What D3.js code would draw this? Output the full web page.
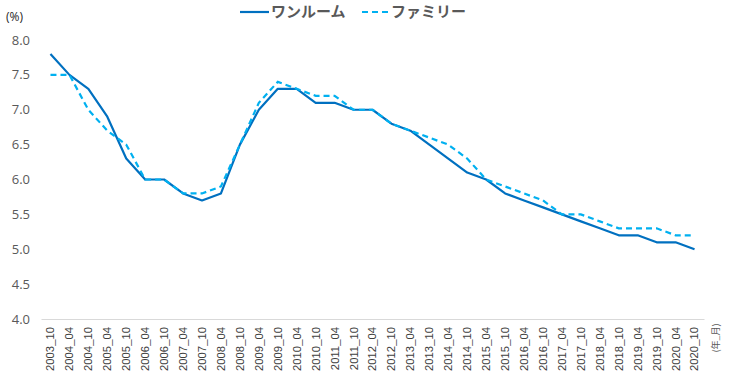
<!DOCTYPE html>
<html><head><meta charset="utf-8">
<script src="https://cdn.jsdelivr.net/npm/d3@7"></script>
<style>body{margin:0;background:#fff;} svg{display:block;font-family:"Noto Sans CJK JP","Noto Sans",sans-serif;}</style>
</head><body>
<svg id="c" width="730" height="384"></svg>
<script>
const categories = ["2003_10","2004_04","2004_10","2005_04","2005_10","2006_04","2006_10","2007_04","2007_10","2008_04","2008_10","2009_04","2009_10","2010_04","2010_10","2011_04","2011_10","2012_04","2012_10","2013_04","2013_10","2014_04","2014_10","2015_04","2015_10","2016_04","2016_10","2017_04","2017_10","2018_04","2018_10","2019_04","2019_10","2020_04","2020_10"];
const oneRoom = [7.8,7.5,7.3,6.9,6.3,6.0,6.0,5.8,5.7,5.8,6.5,7.0,7.3,7.3,7.1,7.1,7.0,7.0,6.8,6.7,6.5,6.3,6.1,6.0,5.8,5.7,5.6,5.5,5.4,5.3,5.2,5.2,5.1,5.1,5.0];
const family = [7.5,7.5,7.0,6.7,6.5,6.0,6.0,5.8,5.8,5.9,6.5,7.1,7.4,7.3,7.2,7.2,7.0,7.0,6.8,6.7,6.6,6.5,6.3,6.0,5.9,5.8,5.7,5.5,5.5,5.4,5.3,5.3,5.3,5.2,5.2];
const yTicks = [4.0,4.5,5.0,5.5,6.0,6.5,7.0,7.5,8.0];
const seriesNames = ["ワンルーム","ファミリー"];
const colors = ["#0070C0","#00B0F0"];

const svg = d3.select("#c");
const x = d3.scaleBand().domain(categories).range([41,704]);
const y = d3.scaleLinear().domain([4,8]).range([319,40]);
const xc = d => x(d) + x.bandwidth()/2;

// y labels
svg.append("g").selectAll("text").data(yTicks).join("text")
  .attr("x", 30).attr("y", d => y(d)).attr("dy","0.35em")
  .attr("text-anchor","end").attr("fill","#595959").attr("font-size",13)
  .attr("font-family","'Open Sans',sans-serif")
  .text(d => d.toFixed(1));
svg.append("text").attr("x",6).attr("y",21).attr("fill","#262626").attr("font-size",12)
  .attr("font-family","'Open Sans',sans-serif").text("(%)");

// x axis
const xa = svg.append("g").attr("transform","translate(0,319)")
  .call(d3.axisBottom(x).tickSize(0).tickSizeOuter(0));
xa.select(".domain").attr("stroke","#D9D9D9").attr("stroke-width",1.2);
xa.selectAll("text").attr("transform","rotate(-90)").attr("text-anchor","end")
  .attr("x",-8).attr("y",0).attr("dy","0.35em").attr("fill","#404040")
  .attr("font-size",11.3).attr("font-family","'Liberation Sans',Arial,sans-serif");
svg.append("text").attr("transform","translate(716,338) rotate(-90)").attr("text-anchor","middle")
  .attr("dy","0.35em").attr("fill","#595959").attr("font-size",9).text("(年_月)");

const line = d3.line().x((d,i) => xc(categories[i])).y(d => y(d));
svg.append("path").datum(oneRoom).attr("d",line).attr("fill","none")
  .attr("stroke",colors[0]).attr("stroke-width",2.2).attr("stroke-linejoin","round");
svg.append("path").datum(family).attr("d",line).attr("fill","none")
  .attr("stroke",colors[1]).attr("stroke-width",2.2).attr("stroke-dasharray","6,4");

// legend
const lg = svg.append("g");
lg.append("line").attr("x1",240).attr("x2",269).attr("y1",12).attr("y2",12).attr("stroke",colors[0]).attr("stroke-width",2.2);
lg.append("text").attr("x",271).attr("y",12).attr("dy","0.35em").attr("fill","#595959").attr("font-size",15).attr("font-weight","bold").text(seriesNames[0]);
lg.append("line").attr("x1",362).attr("x2",388).attr("y1",12).attr("y2",12).attr("stroke",colors[1]).attr("stroke-width",2.2).attr("stroke-dasharray","6,4");
lg.append("text").attr("x",391).attr("y",12).attr("dy","0.35em").attr("fill","#595959").attr("font-size",15).attr("font-weight","bold").text(seriesNames[1]);
</script>
</body></html>
